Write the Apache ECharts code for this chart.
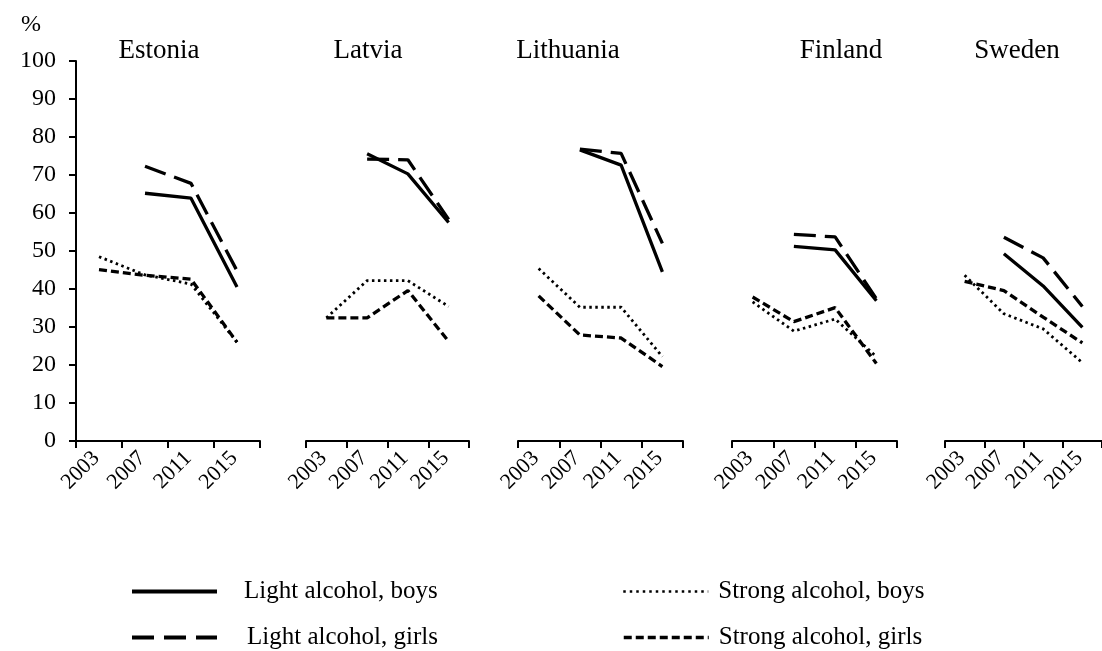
<!DOCTYPE html>
<html>
<head>
<meta charset="utf-8">
<script src="https://cdn.jsdelivr.net/npm/echarts@6/dist/echarts.min.js"></script>
<style>
  html, body { margin: 0; padding: 0; background: #fff; }
  #main { width: 1102px; height: 651px; }
</style>
</head>
<body>
<div id="main"></div>
<script>
// years on each panel's x axis
var years = ['2003', '2007', '2011', '2015'];
var countries = ['Estonia', 'Latvia', 'Lithuania', 'Finland', 'Sweden'];
var seriesNames = ['Light alcohol, boys', 'Light alcohol, girls', 'Strong alcohol, boys', 'Strong alcohol, girls'];

// % per country (rows follow countries), no 2003 value for light alcohol
var lightBoys = [
    [null, 65.2, 63.9, 40.5],
    [null, 75.6, 70.3, 57.5],
    [null, 76.6, 72.6, 44.5],
    [null, 51.2, 50.3, 36.9],
    [null, 49.3, 40.8, 29.9]
];
var lightGirls = [
    [null, 72.3, 67.8, 44.8],
    [null, 74.2, 74.0, 58.3],
    [null, 76.8, 75.7, 52.0],
    [null, 54.4, 53.7, 37.4],
    [null, 53.6, 48.2, 35.4]
];
var strongBoys = [
    [48.5, 43.7, 41.3, 26.0],
    [32.4, 42.2, 42.2, 35.4],
    [45.4, 35.2, 35.2, 22.2],
    [36.6, 28.9, 32.1, 22.2],
    [43.6, 33.5, 29.5, 20.6]
];
var strongGirls = [
    [45.1, 43.6, 42.6, 26.0],
    [32.4, 32.4, 39.6, 26.2],
    [38.2, 27.9, 27.1, 19.6],
    [37.9, 31.4, 35.1, 20.4],
    [42.0, 39.6, 32.6, 25.8]
];

var font = '"Liberation Serif", "Times New Roman", serif';

// panel boxes: left edge and right edge in px
var panelLeft = [76, 306, 518, 732, 945];
var panelRight = [260, 469, 683, 897, 1110];
var titleX = [159, 368, 568, 841, 1017];

var lineStyles = [
    {color: '#000', width: 3.3, type: 'solid'},
    {color: '#000', width: 3.3, type: [22, 9]},
    {color: '#000', width: 2.8, type: [2.5, 3.5]},
    {color: '#000', width: 3.3, type: [8, 4]}
];
var allData = [lightBoys, lightGirls, strongBoys, strongGirls];

var grids = [], xAxes = [], yAxes = [], series = [], titles = [];

titles.push({
    text: '%', left: 21, top: 13, padding: 0,
    textStyle: {fontFamily: font, fontSize: 24, fontWeight: 'normal', color: '#000'}
});

for (var i = 0; i < countries.length; i++) {
    grids.push({
        left: panelLeft[i],
        width: panelRight[i] - panelLeft[i],
        top: 61,
        bottom: 210
    });
    titles.push({
        text: countries[i], left: titleX[i], top: 37, padding: 0, textAlign: 'center',
        textStyle: {fontFamily: font, fontSize: 27, fontWeight: 'normal', color: '#000'}
    });
    xAxes.push({
        type: 'category',
        gridIndex: i,
        data: years,
        boundaryGap: true,
        axisLine: {lineStyle: {color: '#000', width: 2}},
        axisTick: {show: true, length: 7, lineStyle: {color: '#000', width: 2}},
        axisLabel: {
            rotate: 45, margin: 11, interval: 0,
            fontFamily: font, fontSize: 22, color: '#000',
            padding: [0, 4, 0, 0]
        },
        splitLine: {show: false}
    });
    yAxes.push({
        type: 'value',
        gridIndex: i,
        min: 0, max: 100, interval: 10,
        show: i === 0,
        axisLine: {show: true, lineStyle: {color: '#000', width: 2}},
        axisTick: {show: true, length: 7, lineStyle: {color: '#000', width: 2}},
        axisLabel: {margin: 20, fontFamily: font, fontSize: 24, color: '#000'},
        splitLine: {show: false}
    });
    for (var s = 0; s < seriesNames.length; s++) {
        series.push({
            type: 'line',
            name: seriesNames[s],
            xAxisIndex: i,
            yAxisIndex: i,
            data: allData[s][i],
            symbol: 'none',
            connectNulls: false,
            color: '#000',
            lineStyle: lineStyles[s],
            silent: true,
            z: 10 - s
        });
    }
}

var legendText = {fontFamily: font, fontSize: 25, color: '#000'};
var legends = [
    {data: [seriesNames[0]], left: 130, top: 579, lineStyle: {width: 4},
        textStyle: Object.assign({padding: [0, 0, 0, 22]}, legendText)},
    {data: [seriesNames[1]], left: 130, top: 625, lineStyle: {width: 4, type: [22, 10]},
        textStyle: Object.assign({padding: [0, 0, 0, 25]}, legendText)},
    {data: [seriesNames[2]], left: 622, top: 579, lineStyle: {width: 2.5, type: [2.5, 4]},
        textStyle: Object.assign({padding: [0, 0, 0, 5]}, legendText)},
    {data: [seriesNames[3]], left: 622, top: 625, lineStyle: {width: 3.5, type: [8, 4]},
        textStyle: Object.assign({padding: [0, 0, 0, 5]}, legendText)}
];
legends.forEach(function (l) {
    l.itemWidth = 85;
    l.itemHeight = 14;
    l.padding = 0;
    l.selectedMode = false;
    l.itemStyle = {opacity: 0};
});

var myChart = echarts.init(document.getElementById('main'));
var option = {
    backgroundColor: '#fff',
    animation: false,
    title: titles,
    legend: legends,
    grid: grids,
    xAxis: xAxes,
    yAxis: yAxes,
    series: series
};
myChart.setOption(option);
</script>
</body>
</html>
